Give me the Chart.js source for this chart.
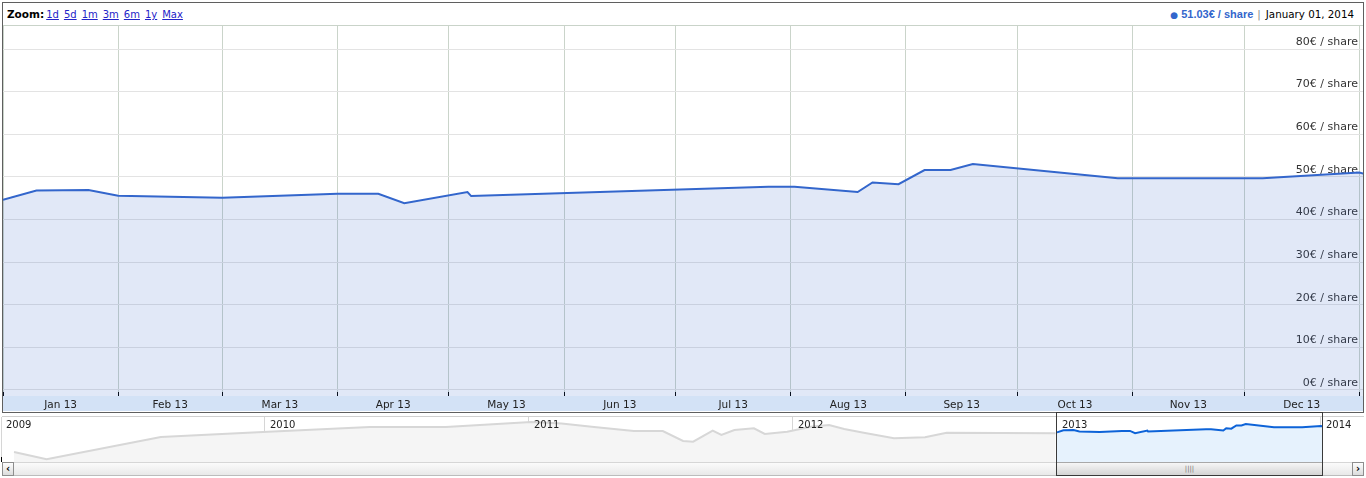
<!DOCTYPE html>
<html>
<head>
<meta charset="utf-8">
<script src="https://cdn.jsdelivr.net/npm/chart.js@4.4.1/dist/chart.umd.min.js"></script>
<style>
html,body{margin:0;padding:0;background:#fff;}
body{width:1366px;height:478px;position:relative;overflow:hidden;font-family:"DejaVu Sans",Verdana,sans-serif;}
#frame{position:absolute;left:2px;top:2px;width:1362px;height:411px;box-sizing:border-box;border:1px solid #5f5f5f;overflow:hidden;background:#fff;}
#toolbar{position:absolute;left:0;top:0;width:1360px;height:22px;border-bottom:1px solid #c9d3c9;}
#zoom{position:absolute;left:4px;top:0;line-height:22px;font-size:10px;color:#000;white-space:nowrap;}
#zoom b{font-size:10.5px;margin-right:2px;}
#zoom a{color:#2323c8;text-decoration:underline;margin-right:5px;}
#legend{position:absolute;right:9px;top:0;line-height:22px;white-space:nowrap;font-size:10.3px;}
#legend .val{font-family:"Liberation Sans",Arial,sans-serif;font-weight:bold;font-size:11px;color:#3366cc;}
#legend .dot{color:#3366cc;font-size:9px;margin-right:3px;}
#legend .sep{color:#888;margin:0 5px 0 4px;}
#main{position:absolute;left:0;top:23px;}
#navTop{position:absolute;left:2px;top:416px;width:1362px;height:1px;background:#d0d0d0;}
#nav{position:absolute;left:1px;top:417px;}
#scroll{position:absolute;left:2px;top:462px;width:1362px;height:14px;box-sizing:border-box;border-top:1px solid #d6d6d6;border-bottom:1px solid #bcbcbc;background:linear-gradient(#fbfbfb,#e9e9e9);}
.btn{position:absolute;top:462px;width:12px;height:14px;box-sizing:border-box;border:1px solid #8e8e8e;background:linear-gradient(#fdfdfd,#dcdcdc);font-size:10px;line-height:12px;text-align:center;font-weight:bold;color:#000;}
#sel{position:absolute;left:1056px;top:412px;width:267px;height:64px;box-sizing:border-box;border:1px solid #3a3a3a;}
#thumb{position:absolute;left:1057px;top:462px;width:265px;height:13px;box-sizing:border-box;border-top:1px solid #a8a8a8;background:linear-gradient(#f6f6f6,#d4d4d4);text-align:center;font-size:7px;line-height:12px;color:#777;}
</style>
</head>
<body>
<div id="frame">
  <div id="toolbar">
    <div id="zoom"><b>Zoom:</b><a>1d</a><a>5d</a><a>1m</a><a>3m</a><a>6m</a><a>1y</a><a>Max</a></div>
    <div id="legend"><span class="dot">●</span><span class="val">51.03€ / share</span><span class="sep">|</span><span>January 01, 2014</span></div>
  </div>
  <canvas id="main" width="1370" height="385"></canvas>
</div>
<div id="navTop"></div>
<canvas id="nav" width="1363" height="45"></canvas>
<div id="scroll"></div>
<div class="btn" style="left:2px;">&lsaquo;</div>
<div class="btn" style="left:1352px;">&rsaquo;</div>
<div id="thumb">||||</div>
<div id="sel"></div>
<script>
// ---- data ----
const priceDates = ['2013-01-01','2013-01-10','2013-01-24','2013-02-01','2013-03-01','2013-04-01','2013-04-12','2013-04-19','2013-05-06','2013-05-07','2013-07-26','2013-08-02','2013-08-19','2013-08-23','2013-08-30','2013-09-06','2013-09-13','2013-09-19','2013-10-28','2013-12-06','2014-01-01','2014-01-03'];
const prices = [44.6,46.8,46.9,45.6,45.1,46.05,46.05,43.8,46.45,45.5,47.7,47.7,46.45,48.7,48.3,51.6,51.6,53.0,49.7,49.7,51.03,50.6];
const monthLabels = ['Jan 13','Feb 13','Mar 13','Apr 13','May 13','Jun 13','Jul 13','Aug 13','Sep 13','Oct 13','Nov 13','Dec 13'];
const priceTicks = [0,10,20,30,40,50,60,70,80];
const priceUnit = '€ / share';
const historyDates = ['2009-01-19','2009-03-05','2009-08-10','2009-12-29','2010-05-26','2010-09-08','2011-01-04','2011-02-15','2011-04-01','2011-05-26','2011-07-05','2011-08-02','2011-08-16','2011-09-12','2011-09-24','2011-10-12','2011-11-08','2011-11-23','2011-12-24','2012-01-26','2012-02-20','2012-03-12','2012-04-08','2012-05-20','2012-07-02','2012-08-01','2012-12-30'];
const historyPrices = [25,17.7,40,45,50,50,55,53.5,50,46,46,36,35.3,46.3,42,47,48.7,43,45.3,50.3,52,48,44.3,38.7,39.7,44.3,43.7];
const yearLabels = ['2009','2010','2011','2012','2013','2014'];

// ---- helpers ----
const DAY = 864e5;
const base = Date.UTC(2013,0,1);
const dayOf = s => (Date.parse(s + 'T00:00:00Z') - base) / DAY;
const yearFrac = s => { const t = Date.parse(s + 'T00:00:00Z'); const y = new Date(t).getUTCFullYear(); const a = Date.UTC(y,0,1), b = Date.UTC(y+1,0,1); return y + (t - a) / (b - a); };
const monthStarts = Array.from({length: 13}, (_, m) => (Date.UTC(2013, m, 1) - base) / DAY);
const monthMids = monthLabels.map((_, i) => (monthStarts[i] + monthStarts[i+1]) / 2);
const years = yearLabels.map(Number);
const quarters = [];
for (let y = years[0]; y <= years[years.length-1]; y += 0.25) quarters.push(y);

const Y_MIN = -1.41, Y_MAX = 85.4;
const NAV_MIN = 15, NAV_MAX = 60;
const FONT = 'DejaVu Sans';
const noPad = s => { s.paddingTop = 0; s.paddingBottom = 0; s.paddingLeft = 0; s.paddingRight = 0; };

const bandPlugin = {
  id: 'band',
  beforeDraw(chart) {
    const {ctx, scales: {xl}} = chart;
    ctx.save();
    ctx.fillStyle = 'rgb(211,226,246)';
    ctx.fillRect(0, xl.top, chart.width, xl.bottom - xl.top);
    ctx.restore();
  }
};

new Chart(document.getElementById('main'), {
  type: 'line',
  data: { datasets: [{
    data: priceDates.map((d, i) => ({x: dayOf(d), y: prices[i]})),
    borderColor: '#3366cc', borderWidth: 2,
    backgroundColor: 'rgba(51,102,204,0.15)', fill: 'start',
    pointRadius: 0, tension: 0
  }]},
  options: {
    responsive: false, animation: false, devicePixelRatio: 1, events: [],
    layout: {padding: 0, autoPadding: false},
    plugins: {legend: {display: false}, tooltip: {enabled: false}},
    scales: {
      x: {
        type: 'linear', axis: 'x', position: {y: Y_MIN}, min: 0, max: 366,
        afterBuildTicks: s => { s.ticks = monthStarts.map(v => ({value: v})); },
        afterFit: noPad,
        ticks: {display: false},
        grid: {color: '#cad4ca', lineWidth: 1, drawTicks: true, tickLength: -4, tickColor: '#000', tickWidth: 1},
        border: {display: false}
      },
      xl: {
        type: 'linear', axis: 'x', position: 'bottom', min: 0, max: 366,
        afterBuildTicks: s => { s.ticks = monthMids.map(v => ({value: v})); },
        afterFit: s => { noPad(s); s.height = 15; },
        ticks: {callback: (v, i) => monthLabels[i], font: {family: FONT, size: 10.5}, color: '#222', padding: 3, autoSkip: false, maxRotation: 0},
        grid: {display: false, drawTicks: false}, border: {display: false}
      },
      y: {
        type: 'linear', position: 'right', min: Y_MIN, max: Y_MAX,
        afterBuildTicks: s => { s.ticks = priceTicks.map(v => ({value: v})); },
        afterFit: s => { noPad(s); s.width = 10; },
        ticks: {mirror: true, padding: -5, labelOffset: -7, callback: v => v + priceUnit, font: {family: FONT, size: 11}, color: '#333'},
        grid: {color: '#e3e3e3', drawTicks: false},
        border: {display: false}
      }
    }
  },
  plugins: [bandPlugin]
});

new Chart(document.getElementById('nav'), {
  type: 'line',
  data: { datasets: [
    { data: historyDates.map((d, i) => ({x: yearFrac(d), y: historyPrices[i]})),
      borderColor: '#d7d7d7', borderWidth: 2, backgroundColor: '#f5f5f5', fill: 'start', pointRadius: 0, tension: 0 },
    { data: priceDates.map((d, i) => ({x: yearFrac(d), y: prices[i]})),
      borderColor: '#0d63d8', borderWidth: 2, backgroundColor: '#e6f2fd', fill: 'start', pointRadius: 0, tension: 0 }
  ]},
  options: {
    responsive: false, animation: false, devicePixelRatio: 1, events: [],
    layout: {padding: 0, autoPadding: false},
    plugins: {legend: {display: false}, tooltip: {enabled: false}},
    scales: {
      x: {
        type: 'linear', axis: 'x', position: {y: NAV_MIN}, min: 2009, max: 2014.163,
        afterBuildTicks: s => { s.ticks = quarters.map(v => ({value: v})); },
        afterFit: noPad,
        ticks: {display: false},
        grid: {
          color: c => Number.isInteger(c.tick.value) ? '#d6d6d6' : 'rgba(0,0,0,0)',
          tickColor: c => Number.isInteger(c.tick.value) ? '#000' : '#c8c8c8',
          drawTicks: true, tickLength: -5, lineWidth: 1, tickWidth: 1
        },
        border: {display: false}
      },
      xl: {
        type: 'linear', axis: 'x', position: {y: NAV_MAX}, min: 2009, max: 2014.163,
        afterBuildTicks: s => { s.ticks = years.map(v => ({value: v})); },
        afterFit: noPad,
        ticks: {z: 1, callback: (v, i) => yearLabels[i], align: 'start', labelOffset: 5, padding: 2, font: {family: FONT, size: 10}, color: '#222', autoSkip: false, maxRotation: 0},
        grid: {display: false, drawTicks: false}, border: {display: false}
      },
      y: { type: 'linear', display: false, min: NAV_MIN, max: NAV_MAX }
    }
  }
});
</script>
</body>
</html>
